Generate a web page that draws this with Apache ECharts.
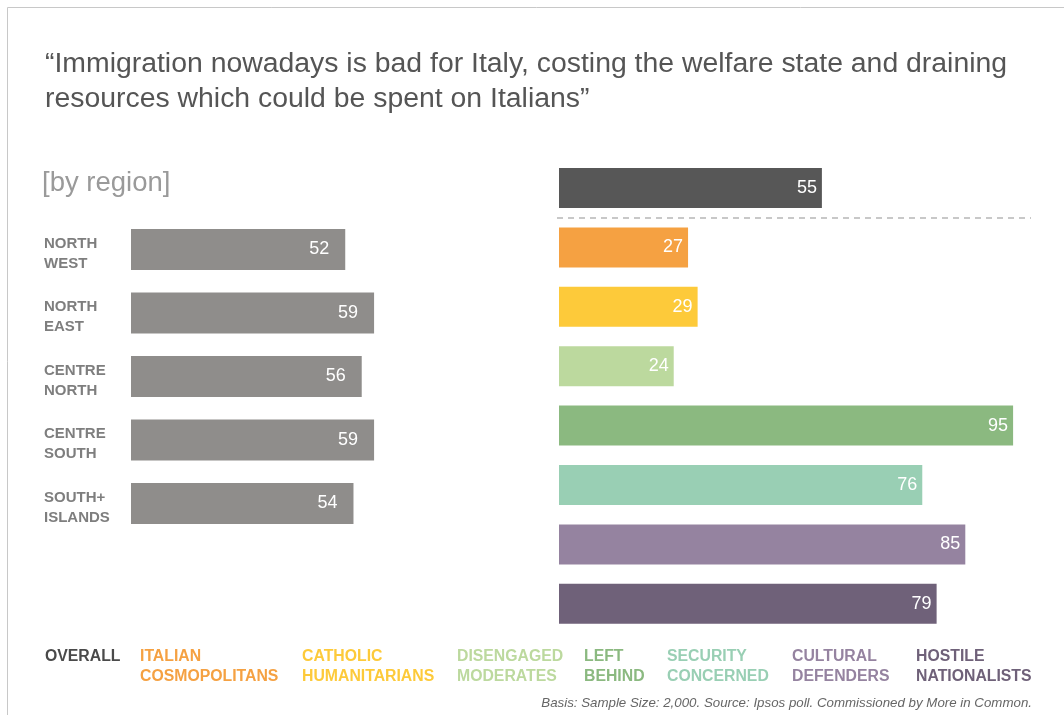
<!DOCTYPE html>
<html><head><meta charset="utf-8">
<script src="https://cdn.jsdelivr.net/npm/echarts@6/dist/echarts.min.js"></script>
<style>html,body{margin:0;padding:0;background:#fff}#c{width:1064px;height:715px}</style>
</head><body><div id="c"></div>
<script>
const titleText = "“Immigration nowadays is bad for Italy, costing the welfare state and draining\nresources which could be spent on Italians”";
const subTitle = "[by region]";
const footnote = "Basis: Sample Size: 2,000. Source: Ipsos poll. Commissioned by More in Common.";

const regions = ["NORTH\nWEST", "NORTH\nEAST", "CENTRE\nNORTH", "CENTRE\nSOUTH", "SOUTH+\nISLANDS"];
const regionValues = [52, 59, 56, 59, 54];

const segments = ["OVERALL", "ITALIAN\nCOSMOPOLITANS", "CATHOLIC\nHUMANITARIANS", "DISENGAGED\nMODERATES", "LEFT\nBEHIND", "SECURITY\nCONCERNED", "CULTURAL\nDEFENDERS", "HOSTILE\nNATIONALISTS"];
const segmentValues = [55, 27, 29, 24, 95, 76, 85, 79];
const segmentColors = ["#575757", "#f5a142", "#fdca3a", "#bcd99e", "#8bb980", "#99cfb4", "#9583a0", "#6f6179"];
const segmentTextColors = ["#4a4a4a", "#f5a142", "#fdca3a", "#bcd99e", "#8bb980", "#99cfb4", "#9583a0", "#6f6179"];
const legendX = [45, 140, 302, 457, 584, 667, 792, 916];

const FONT = "'Liberation Sans', Arial, Helvetica, sans-serif";
const chart = echarts.init(document.getElementById('c'));

const legendGraphics = segments.map((s, i) => ({
  type: 'text', left: legendX[i], top: 647,
  style: { text: s, fill: segmentTextColors[i], font: "bold 15.8px " + FONT, lineHeight: 20 }
}));

const labelFont = { color: '#7e7e7e', fontFamily: FONT, fontSize: 15, fontWeight: 'bold', lineHeight: 20 };

chart.setOption({
  animation: false,
  backgroundColor: '#fff',
  title: [
    { text: titleText, left: 40, top: 42, textStyle: { fontFamily: FONT, fontSize: 28.4, fontWeight: 'normal', color: '#555', lineHeight: 35 } },
    { text: subTitle, left: 37, top: 164, textStyle: { fontFamily: FONT, fontSize: 27.5, fontWeight: 'normal', color: '#9a9a9a' } },
    { text: footnote, right: 27, top: 692, textStyle: { fontFamily: FONT, fontSize: 13.3, fontStyle: 'italic', fontWeight: 'normal', color: '#666' } }
  ],
  grid: [
    { left: 131, width: 412, top: 217.75, height: 317.5 },
    { left: 559, width: 478, top: 158.3, height: 475.2 }
  ],
  xAxis: [
    { gridIndex: 0, type: 'value', min: 0, max: 100, show: false },
    { gridIndex: 1, type: 'value', min: 0, max: 100, show: false }
  ],
  yAxis: [
    { gridIndex: 0, type: 'category', data: regions, inverse: true,
      axisLine: { show: false }, axisTick: { show: false },
      axisLabel: Object.assign({ align: 'left', margin: 87,
        formatter: v => '{s| }\n' + v.split('\n').map(p => '{a|' + p + '}').join('\n'),
        rich: { s: { fontSize: 6, lineHeight: 8 }, a: Object.assign({}, labelFont) } }, labelFont) },
    { gridIndex: 1, type: 'category', data: segments, inverse: true, show: false }
  ],
  series: [
    { type: 'bar', xAxisIndex: 0, yAxisIndex: 0, data: regionValues, barWidth: 41,
      itemStyle: { color: '#8f8d8b' },
      label: { show: true, position: 'insideRight', distance: 16, color: '#fff', fontFamily: FONT, fontSize: 18 } },
    { type: 'bar', xAxisIndex: 1, yAxisIndex: 1, barWidth: 40,
      data: segmentValues.map((v, i) => ({ value: v, itemStyle: { color: segmentColors[i] } })),
      label: { show: true, position: 'insideRight', distance: 5, color: '#fff', fontFamily: FONT, fontSize: 18 } }
  ],
  graphic: [
    { type: 'rect', shape: { x: 7.5, y: 7.5, width: 1200, height: 800 }, style: { fill: 'none', stroke: '#c8c8c8', lineWidth: 1 }, silent: true },
    { type: 'line', shape: { x1: 557, y1: 218, x2: 1031, y2: 218 }, style: { stroke: '#c8c8c8', lineWidth: 2, lineDash: [6, 5] }, silent: true }
  ].concat(legendGraphics)
});
</script></body></html>
